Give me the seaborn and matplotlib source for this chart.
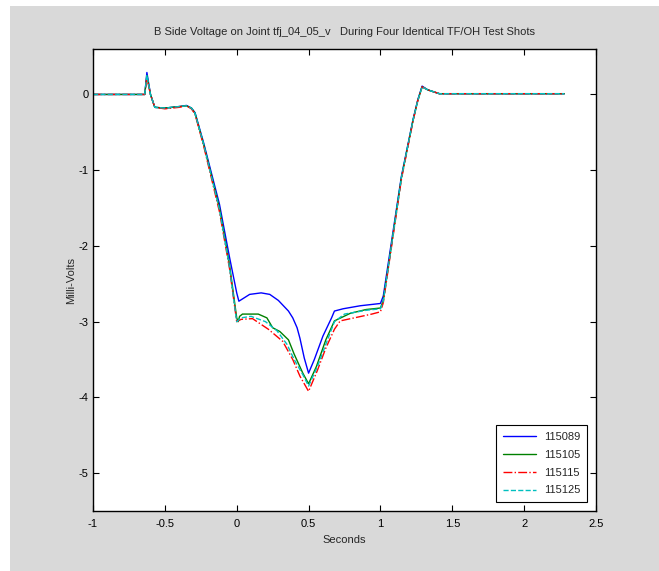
import matplotlib
matplotlib.use("Agg")
import matplotlib.pyplot as plt
import seaborn as sns
import pandas as pd
from matplotlib.patches import Rectangle

# Shot 115089
t_115089 = [-1.0, -0.64, -0.625, -0.60, -0.57, -0.50, -0.40, -0.35, -0.315, -0.29, -0.23,
            -0.12, -0.05, 0.0, 0.015, 0.09, 0.17, 0.23, 0.29, 0.33, 0.36, 0.39, 0.42, 0.44,
            0.47, 0.50, 0.54, 0.60, 0.66, 0.68, 0.74, 0.86, 1.0, 1.02, 1.146, 1.227, 1.26,
            1.29, 1.33, 1.41, 2.28]
v_115089 = [0.0, 0.0, 0.29, 0.0, -0.17, -0.18, -0.16, -0.145, -0.18, -0.24, -0.64,
            -1.45, -2.15, -2.62, -2.73, -2.64, -2.62, -2.64, -2.72, -2.80, -2.86, -2.95, -3.08, -3.22,
            -3.48, -3.68, -3.50, -3.19, -2.95, -2.86, -2.83, -2.79, -2.76, -2.66, -1.08, -0.33, -0.07,
            0.11, 0.06, 0.01, 0.01]

# Shot 115105
t_115105 = [-1.0, -0.64, -0.625, -0.60, -0.57, -0.50, -0.40, -0.35, -0.315, -0.29, -0.23,
            -0.12, -0.05, 0.0, 0.01, 0.02, 0.04, 0.15, 0.21, 0.25, 0.30, 0.36, 0.40, 0.46,
            0.50, 0.555, 0.62, 0.68, 0.79, 0.90, 1.0, 1.02, 1.146, 1.227, 1.26, 1.29, 1.33,
            1.41, 2.28]
v_115105 = [0.0, 0.0, 0.25, 0.0, -0.17, -0.18, -0.16, -0.15, -0.18, -0.25, -0.66,
            -1.50, -2.25, -2.95, -3.00, -2.93, -2.90, -2.90, -2.95, -3.08, -3.13, -3.24, -3.43, -3.68,
            -3.82, -3.59, -3.24, -2.99, -2.89, -2.84, -2.82, -2.72, -1.10, -0.34, -0.08, 0.10, 0.06,
            0.01, 0.01]

# Shot 115115
t_115115 = [-1.0, -0.64, -0.625, -0.60, -0.57, -0.50, -0.40, -0.35, -0.315, -0.29, -0.23,
            -0.12, -0.05, 0.0, 0.03, 0.11, 0.22, 0.32, 0.39, 0.44, 0.50, 0.56, 0.62, 0.68,
            0.72, 0.94, 1.0, 1.02, 1.146, 1.227, 1.26, 1.29, 1.33, 1.41, 2.28]
v_115115 = [0.0, 0.0, 0.22, 0.0, -0.17, -0.19, -0.17, -0.15, -0.19, -0.26, -0.68,
            -1.55, -2.30, -3.00, -2.97, -2.96, -3.10, -3.26, -3.50, -3.72, -3.92, -3.65, -3.35, -3.10,
            -2.99, -2.90, -2.87, -2.75, -1.12, -0.35, -0.08, 0.10, 0.06, 0.01, 0.01]

# Shot 115125
t_115125 = [-1.0, -0.64, -0.625, -0.60, -0.57, -0.50, -0.40, -0.35, -0.315, -0.29, -0.23,
            -0.12, -0.05, 0.0, 0.03, 0.10, 0.20, 0.28, 0.35, 0.40, 0.46, 0.50, 0.56, 0.62,
            0.68, 0.75, 0.90, 1.0, 1.02, 1.146, 1.227, 1.26, 1.29, 1.33, 1.41, 2.28]
v_115125 = [0.0, 0.0, 0.26, 0.0, -0.17, -0.18, -0.16, -0.15, -0.18, -0.25, -0.66,
            -1.52, -2.28, -3.00, -2.95, -2.93, -3.00, -3.12, -3.30, -3.50, -3.70, -3.85, -3.60, -3.30,
            -3.00, -2.90, -2.85, -2.83, -2.73, -1.10, -0.34, -0.08, 0.10, 0.06, 0.01, 0.01]

shots = ["115089", "115105", "115115", "115125"]
times = [t_115089, t_115105, t_115115, t_115125]
volts = [v_115089, v_115105, v_115115, v_115125]
colors = ["#0000ff", "#008000", "#ff0000", "#00bfbf"]
styles = ["-", "-", "-.", "--"]

x_ticks = [-1, -0.5, 0, 0.5, 1, 1.5, 2, 2.5]
x_tick_labels = ["-1", "-0.5", "0", "0.5", "1", "1.5", "2", "2.5"]
y_ticks = [-5, -4, -3, -2, -1, 0]
y_tick_labels = ["-5", "-4", "-3", "-2", "-1", "0"]

sns.set_style("ticks")
plt.rcParams["font.family"] = ["Liberation Sans", "DejaVu Sans"]
plt.rcParams["xtick.direction"] = "in"
plt.rcParams["ytick.direction"] = "in"

fig = plt.figure(figsize=(6.59, 5.71), dpi=100, facecolor="white")
fig.patches.append(Rectangle((10 / 659, 0), 1 - 10 / 659, 1 - 6 / 571,
                             transform=fig.transFigure, facecolor="#d9d9d9",
                             edgecolor="none", zorder=-10))
ax = fig.add_axes([93 / 659, 1 - 511 / 571, 503 / 659, 462 / 571])
ax.set_facecolor("white")

for shot, t, v, c, ls in zip(shots, times, volts, colors, styles):
    df = pd.DataFrame({"Seconds": t, "mV": v})
    sns.lineplot(data=df, x="Seconds", y="mV", ax=ax, color=c, linestyle=ls,
                 linewidth=1.0, label=shot, sort=False, estimator=None)

ax.set_xlim(-1, 2.5)
ax.set_ylim(-5.5, 0.6)
ax.set_xticks(x_ticks)
ax.set_xticklabels(x_tick_labels)
ax.set_yticks(y_ticks)
ax.set_yticklabels(y_tick_labels)
ax.tick_params(axis="both", which="both", direction="in", top=True, right=True,
               length=4, width=0.8, labelsize=8, colors="black")
ax.tick_params(axis="x", pad=6)
ax.tick_params(axis="y", pad=3)
for sp in ax.spines.values():
    sp.set_visible(True)
    sp.set_color("black")
    sp.set_linewidth(1.0)

ax.set_xlabel("Seconds", fontsize=8, labelpad=4)
ax.set_ylabel("Milli-Volts", fontsize=8, labelpad=2)
ax.set_title("B Side Voltage on Joint tfj_04_05_v   During Four Identical TF/OH Test Shots",
             fontsize=8, pad=10)

leg = ax.legend(loc="lower right", fontsize=8, frameon=True, fancybox=False,
                edgecolor="black", framealpha=1, borderaxespad=0.8,
                handlelength=3.0, handletextpad=0.7, labelspacing=0.7, borderpad=0.6)
leg.get_frame().set_linewidth(0.8)

fig.savefig("out.png", dpi=100, facecolor=fig.get_facecolor())
